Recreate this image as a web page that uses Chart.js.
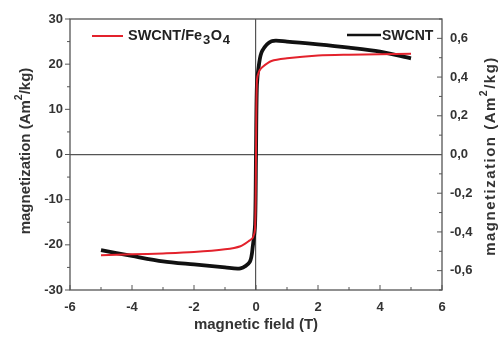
<!DOCTYPE html>
<html>
<head>
<meta charset="utf-8">
<script src="https://cdn.jsdelivr.net/npm/chart.js@4"></script>
<style>
  html, body { margin: 0; padding: 0; background: #fff; }
  #wrap { width: 499px; height: 338px; position: relative; }
</style>
</head>
<body>
<div id="wrap"><canvas id="myChart" width="499" height="338"></canvas></div>
<script>
// magnetic field (T)
const fieldT = [-5, -4, -3, -2, -1, -0.5, -0.2, -0.1, -0.03, 0, 0.03, 0.1, 0.2, 0.5, 1, 2, 3, 4, 5];
// SWCNT/Fe3O4, left axis (Am2/kg)
const magFe3O4 = [-22.3, -22.1, -21.9, -21.6, -21.0, -20.3, -19.0, -18.4, -16.5, 0, 16.5, 18.4, 19.3, 20.7, 21.3, 21.9, 22.1, 22.2, 22.3];
// SWCNT, right axis (Am2/kg)
const magSWCNT = [-0.494, -0.524, -0.552, -0.568, -0.583, -0.588, -0.555, -0.47, -0.36, 0, 0.36, 0.47, 0.535, 0.585, 0.583, 0.569, 0.552, 0.531, 0.497];

const xTicks = [-6, -4, -2, 0, 2, 4, 6];
const leftTicks = [-30, -20, -10, 0, 10, 20, 30];
const rightTicks = [-0.6, -0.4, -0.2, 0, 0.2, 0.4, 0.6];

const axisColor = "#555";
const textColor = "#333";
const fontFam = "'Liberation Sans', Arial, sans-serif";

function pts(xs, ys) {
    return xs.map((x, i) => ({ x: x, y: ys[i] }));
}

// frame, ticks
const framePlugin = {
    id: "frame",
    afterDraw(chart) {
        const c = chart.ctx;
        const a = chart.chartArea;
        const sx = chart.scales.x, sl = chart.scales.y, sr = chart.scales.y2;
        c.save();
        c.strokeStyle = axisColor;
        c.lineWidth = 1.3;
        c.strokeRect(a.left, a.top, a.right - a.left, a.bottom - a.top);
        c.lineWidth = 1;
        c.beginPath();
        for (let v = -6; v <= 6; v++) {
            const p = sx.getPixelForValue(v);
            const len = v % 2 === 0 ? 5 : 3;
            c.moveTo(p, a.bottom);
            c.lineTo(p, a.bottom - len);
        }
        for (let v = -30; v <= 30; v += 5) {
            const p = sl.getPixelForValue(v);
            const len = v % 10 === 0 ? 5 : 3;
            c.moveTo(a.left, p);
            c.lineTo(a.left - len, p);
        }
        for (let k = -7; k <= 7; k++) {
            const p = sr.getPixelForValue(k / 10);
            const len = k % 2 === 0 ? 5 : 3;
            c.moveTo(a.right, p);
            c.lineTo(a.right - len, p);
        }
        c.stroke();
        c.restore();
    }
};

// rotated y titles with superscript, both read bottom to top
function drawYTitle(c, cx, cy, size, spacing) {
    const parts = [["magnetization (Am", 0], ["2", 1], ["/kg)", 0]];
    c.save();
    c.translate(cx, cy);
    c.rotate(-Math.PI / 2);
    c.fillStyle = textColor;
    c.textBaseline = "alphabetic";
    c.letterSpacing = spacing + "px";
    let total = 0;
    parts.forEach(p => {
        c.font = "bold " + (p[1] ? size * 0.7 : size) + "px " + fontFam;
        total += c.measureText(p[0]).width;
    });
    let x = -total / 2;
    parts.forEach(p => {
        c.font = "bold " + (p[1] ? size * 0.7 : size) + "px " + fontFam;
        c.fillText(p[0], x, p[1] ? -size * 0.55 : 0);
        x += c.measureText(p[0]).width;
    });
    c.restore();
}

const titlePlugin = {
    id: "yTitles",
    afterDraw(chart) {
        drawYTitle(chart.ctx, 30, 151, 15, 0);
        drawYTitle(chart.ctx, 495, 156, 15, 1.5);
    }
};

// legend with subscripts
const legendPlugin = {
    id: "subLegend",
    afterDatasetsDraw(chart) {
        const c = chart.ctx;
        const ds = chart.data.datasets;
        c.save();
        c.textBaseline = "alphabetic";
        c.strokeStyle = ds[0].borderColor;
        c.lineWidth = 2;
        c.beginPath();
        c.moveTo(92, 36);
        c.lineTo(123, 36);
        c.stroke();
        c.fillStyle = "#222";
        let x = 128;
        const parts = [["SWCNT/Fe", 0], ["3", 1], ["O", 0], ["4", 1]];
        parts.forEach(p => {
            c.font = (p[1] ? "bold 13px " : "bold 14.5px ") + fontFam;
            c.fillText(p[0], x, p[1] ? 44 : 40);
            x += c.measureText(p[0]).width + (p[1] ? 0.5 : 0.8);
        });
        c.strokeStyle = ds[1].borderColor;
        c.lineWidth = 2.5;
        c.beginPath();
        c.moveTo(347, 35);
        c.lineTo(381, 35);
        c.stroke();
        c.font = "bold 14px " + fontFam;
        c.fillText(ds[1].label, 382, 40);
        c.restore();
    }
};

const ctx = document.getElementById("myChart");

new Chart(ctx, {
    type: "line",
    data: {
        datasets: [
            {
                label: "SWCNT/Fe3O4",
                data: pts(fieldT, magFe3O4),
                borderColor: "#e3222c",
                borderWidth: 2,
                pointRadius: 0,
                tension: 0.3,
                yAxisID: "y"
            },
            {
                label: "SWCNT",
                data: pts(fieldT, magSWCNT),
                borderColor: "#111",
                borderWidth: 3.8,
                pointRadius: 0,
                tension: 0.3,
                yAxisID: "y2"
            }
        ]
    },
    options: {
        responsive: false,
        animation: false,
        layout: { padding: { top: 19, left: 0, right: 0, bottom: 0 } },
        plugins: {
            legend: { display: false },
            tooltip: { enabled: false }
        },
        scales: {
            x: {
                type: "linear",
                min: -6,
                max: 6,
                afterBuildTicks: s => { s.ticks = xTicks.map(v => ({ value: v })); },
                afterFit: s => { s.height = 48; },
                border: { display: false },
                grid: {
                    drawTicks: false,
                    color: c => c.tick && c.tick.value === 0 ? axisColor : "transparent",
                    lineWidth: 1.2
                },
                ticks: {
                    padding: 10,
                    color: textColor,
                    font: { family: fontFam, size: 13, weight: "bold" }
                },
                title: {
                    display: true,
                    text: "magnetic field (T)",
                    color: textColor,
                    padding: { top: 8 },
                    font: { family: fontFam, size: 15, weight: "bold" }
                }
            },
            y: {
                type: "linear",
                position: "left",
                min: -30,
                max: 30,
                afterBuildTicks: s => { s.ticks = leftTicks.map(v => ({ value: v })); },
                afterFit: s => { s.width = 70; },
                border: { display: false },
                grid: {
                    drawTicks: false,
                    color: c => c.tick && c.tick.value === 0 ? axisColor : "transparent",
                    lineWidth: 1.2
                },
                ticks: {
                    padding: 7,
                    color: textColor,
                    font: { family: fontFam, size: 13, weight: "bold" }
                }
            },
            y2: {
                type: "linear",
                position: "right",
                min: -0.7,
                max: 0.7,
                afterBuildTicks: s => { s.ticks = rightTicks.map(v => ({ value: v })); },
                afterFit: s => { s.width = 57; },
                border: { display: false },
                grid: { drawTicks: false, drawOnChartArea: false },
                ticks: {
                    padding: 8,
                    color: textColor,
                    font: { family: fontFam, size: 13, weight: "bold" },
                    callback: v => v.toFixed(1).replace(".", ",")
                }
            }
        }
    },
    plugins: [framePlugin, legendPlugin, titlePlugin]
});
</script>
</body>
</html>
